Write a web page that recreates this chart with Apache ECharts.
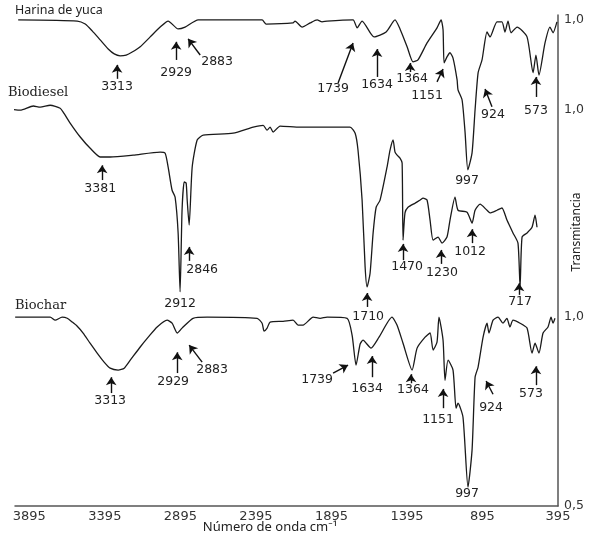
<!DOCTYPE html>
<html>
<head>
<meta charset="utf-8">
<script src="https://cdn.jsdelivr.net/npm/echarts@6/dist/echarts.min.js"></script>
<style>
  html, body { margin: 0; padding: 0; background: #fff; }
  #main { width: 590px; height: 535px; }
</style>
</head>
<body>
<div id="main"></div>
<script>
// numero de onda (cm-1) y transmitancia de cada espectro
const harinaWn = [3969, 3578, 3525, 3479, 3426, 3373, 3333, 3294, 3254, 3214, 3161, 3095, 3029, 2976, 2910, 2864, 2777, 2354, 2327, 2149, 2136, 2089, 2036, 1990, 1957, 1924, 1752, 1725, 1692, 1613, 1533, 1474, 1441, 1394, 1355, 1322, 1262, 1196, 1169, 1156, 1149, 1130, 1110, 1090, 1063, 1057, 1030, 1010, 992, 964, 944, 924, 898, 865, 845, 799, 766, 746, 726, 706, 666, 600, 560, 541, 521, 481, 448, 428, 402];
const harinaT = [1.0, 0.997, 0.989, 0.971, 0.947, 0.923, 0.910, 0.905, 0.907, 0.915, 0.929, 0.955, 0.981, 0.997, 0.976, 0.981, 1.0, 1.0, 0.989, 0.992, 0.997, 0.981, 0.992, 1.0, 0.995, 0.997, 1.0, 0.979, 0.997, 0.955, 0.968, 1.0, 0.976, 0.929, 0.889, 0.894, 0.939, 0.979, 1.0, 0.974, 0.886, 0.902, 0.913, 0.899, 0.841, 0.815, 0.788, 0.701, 0.603, 0.648, 0.762, 0.860, 0.894, 0.968, 0.955, 0.995, 0.995, 0.968, 0.997, 0.966, 0.981, 0.955, 0.860, 0.907, 0.854, 0.939, 0.981, 0.966, 0.995];

const biodieselWn = [4022, 3955, 3869, 3823, 3757, 3691, 3671, 3625, 3558, 3492, 3426, 3360, 3208, 3029, 2996, 2976, 2950, 2930, 2910, 2897, 2884, 2870, 2857, 2850, 2837, 2817, 2784, 2744, 2546, 2413, 2347, 2321, 2301, 2281, 2235, 2102, 1772, 1738, 1719, 1692, 1672, 1659, 1639, 1619, 1599, 1573, 1527, 1507, 1487, 1474, 1460, 1441, 1427, 1421, 1408, 1388, 1341, 1308, 1288, 1262, 1242, 1222, 1189, 1163, 1130, 1110, 1077, 1057, 997, 964, 944, 911, 865, 845, 799, 766, 733, 693, 660, 646, 633, 600, 567, 547, 534];
const biodieselT = [1.003, 1.0, 1.011, 1.008, 1.013, 1.005, 0.995, 0.966, 0.929, 0.899, 0.876, 0.876, 0.881, 0.889, 0.886, 0.849, 0.788, 0.770, 0.675, 0.519, 0.735, 0.810, 0.807, 0.762, 0.696, 0.849, 0.921, 0.934, 0.939, 0.955, 0.960, 0.947, 0.955, 0.942, 0.958, 0.955, 0.955, 0.939, 0.894, 0.762, 0.585, 0.532, 0.569, 0.675, 0.743, 0.762, 0.849, 0.894, 0.921, 0.889, 0.881, 0.873, 0.860, 0.656, 0.728, 0.743, 0.754, 0.762, 0.767, 0.762, 0.709, 0.656, 0.664, 0.648, 0.664, 0.709, 0.770, 0.735, 0.730, 0.701, 0.735, 0.751, 0.735, 0.728, 0.735, 0.741, 0.709, 0.675, 0.648, 0.532, 0.664, 0.675, 0.690, 0.722, 0.690];

const biocharWn = [3989, 3757, 3724, 3678, 3644, 3611, 3578, 3539, 3493, 3446, 3400, 3360, 3307, 3267, 3227, 3161, 3108, 3049, 2983, 2950, 2916, 2884, 2811, 2718, 2387, 2354, 2341, 2321, 2301, 2215, 2149, 2116, 2083, 2016, 1970, 1924, 1791, 1758, 1732, 1705, 1686, 1633, 1580, 1494, 1461, 1421, 1361, 1328, 1275, 1242, 1222, 1196, 1183, 1156, 1143, 1123, 1090, 1070, 1057, 1024, 991, 964, 944, 924, 891, 865, 852, 825, 792, 759, 733, 713, 693, 646, 600, 567, 547, 521, 494, 461, 441, 428, 415];
const biocharT = [1.0, 1.0, 0.992, 1.0, 0.997, 0.987, 0.976, 0.958, 0.931, 0.905, 0.881, 0.865, 0.860, 0.865, 0.886, 0.921, 0.947, 0.974, 0.992, 0.984, 0.958, 0.971, 0.997, 1.0, 0.997, 0.984, 0.963, 0.971, 0.987, 0.989, 0.992, 0.979, 0.979, 1.0, 0.997, 1.0, 0.997, 0.952, 0.873, 0.929, 0.939, 0.918, 0.947, 1.0, 0.979, 0.931, 0.860, 0.918, 0.947, 0.958, 0.913, 0.934, 1.0, 0.939, 0.833, 0.886, 0.860, 0.759, 0.772, 0.735, 0.550, 0.648, 0.841, 0.868, 0.947, 0.984, 0.958, 0.992, 1.0, 0.984, 0.997, 0.974, 0.992, 0.984, 0.971, 0.905, 0.931, 0.905, 0.958, 0.974, 1.0, 0.984, 0.997];

// desplazamiento vertical de cada espectro
const harinaOffset = 0.787;
const biodieselOffset = 0.548;
const biocharOffset = 0;

const xTicks = [3895, 3395, 2895, 2395, 1895, 1395, 895, 395];

// bandas: [texto, cola de flecha, punta de flecha, etiqueta]
const harinaBands = [
    ['3313', [3314, 0.844], [3314, 0.881], [3314, 0.823]],
    ['2929', [2923, 0.894], [2923, 0.942], [2923, 0.860]],
    ['2883', [2764, 0.907], [2844, 0.950], [2652, 0.889]],
    ['1739', [1851, 0.833], [1752, 0.939], [1884, 0.817]],
    ['1634', [1593, 0.849], [1593, 0.923], [1593, 0.828]],
    ['1364', [1374, 0.862], [1374, 0.886], [1361, 0.844]],
    ['1151', [1196, 0.836], [1156, 0.870], [1262, 0.799]],
    ['997', null, null, [997, 0.574]],
    ['924', [832, 0.770], [878, 0.817], [825, 0.749]],
    ['573', [541, 0.796], [541, 0.849], [541, 0.759]]
];
const biodieselBands = [
    ['3381', [3413, 0.815], [3413, 0.854], [3426, 0.791]],
    ['2846', [2837, 0.601], [2837, 0.638], [2751, 0.577]],
    ['2912', null, null, [2897, 0.487]],
    ['1710', [1659, 0.479], [1659, 0.516], [1652, 0.452]],
    ['1470', [1421, 0.603], [1421, 0.646], [1394, 0.585]],
    ['1230', [1169, 0.593], [1169, 0.630], [1163, 0.569]],
    ['1012', [964, 0.648], [964, 0.685], [977, 0.624]],
    ['717', [653, 0.511], [653, 0.542], [646, 0.492]]
];
const biocharBands = [
    ['3313', [3353, 0.799], [3353, 0.841], [3360, 0.778]],
    ['2929', [2916, 0.852], [2916, 0.907], [2943, 0.828]],
    ['2883', [2751, 0.881], [2837, 0.926], [2685, 0.860]],
    ['1739', [1884, 0.852], [1785, 0.873], [1990, 0.833]],
    ['1634', [1626, 0.841], [1626, 0.897], [1659, 0.810]],
    ['1364', [1368, 0.825], [1368, 0.849], [1355, 0.807]],
    ['1151', [1156, 0.759], [1156, 0.810], [1189, 0.728]],
    ['997', null, null, [997, 0.532]],
    ['924', [825, 0.796], [871, 0.831], [838, 0.759]],
    ['573', [541, 0.820], [541, 0.870], [574, 0.796]]
];

const numFont = 'DejaVu Sans';

const makeSeries = (name, wn, t, offset, bands) => {
    const arrows = bands.filter(b => b[1]).map(b => [
        { coord: [b[1][0], b[1][1] + offset] },
        { coord: [b[2][0], b[2][1] + offset] }
    ]);
    const labels = bands.map(b => ({
        coord: [b[3][0], b[3][1] + offset],
        value: b[0]
    }));
    return {
        name: name,
        type: 'line',
        data: wn.map((w, i) => [w, t[i] + offset]),
        symbol: 'none',
        smooth: 0.2,
        clip: false,
        lineStyle: { color: '#1a1a1a', width: 1.3 },
        silent: true,
        markLine: {
            silent: true,
            symbol: ['none', 'arrow'],
            symbolSize: 8,
            label: { show: false },
            lineStyle: { color: '#111', width: 1.4, type: 'solid' },
            data: arrows
        },
        markPoint: {
            silent: true,
            symbol: 'rect',
            symbolSize: 1,
            itemStyle: { color: 'rgba(0,0,0,0)' },
            label: {
                show: true,
                position: 'inside',
                formatter: '{c}',
                color: '#222',
                fontFamily: numFont,
                fontSize: 12.5
            },
            data: labels
        }
    };
};

var chartDom = document.getElementById('main');
var myChart = echarts.init(chartDom);
var option = {
    animation: false,
    backgroundColor: '#fff',
    grid: { left: 15, right: 32, top: 15, bottom: 29, containLabel: false, outerBoundsMode: 'none' },
    xAxis: {
        type: 'value',
        inverse: true,
        min: 395,
        max: 3990,
        interval: 500,
        axisLine: { show: true, lineStyle: { color: '#555', width: 1.5 } },
        axisTick: { show: false },
        splitLine: { show: false },
        axisLabel: {
            showMaxLabel: false,
            margin: 4,
            color: '#333',
            fontFamily: numFont,
            fontSize: 13,
            formatter: v => (xTicks.indexOf(v) >= 0 ? String(v) : '')
        }
    },
    yAxis: {
        type: 'value',
        position: 'right',
        min: 0.5,
        max: 1.8,
        axisLine: { show: true, onZero: false, lineStyle: { color: '#555', width: 1.5 } },
        axisTick: { show: false },
        splitLine: { show: false },
        axisLabel: {
            customValues: [0.5, 1 + biocharOffset, 1 + biodieselOffset, 1 + harinaOffset],
            margin: 6,
            color: '#333',
            fontFamily: numFont,
            fontSize: 12.5,
            formatter: v => (v < 0.75 ? '0,5' : '1,0')
        }
    },
    series: [
        makeSeries('Harina de yuca', harinaWn, harinaT, harinaOffset, harinaBands),
        makeSeries('Biodiesel', biodieselWn, biodieselT, biodieselOffset, biodieselBands),
        makeSeries('Biochar', biocharWn, biocharT, biocharOffset, biocharBands)
    ],
    graphic: [
        { type: 'text', left: 15, top: 4, style: { text: 'Harina de yuca', fill: '#222', font: '12.5px "Noto Sans"' } },
        { type: 'text', left: 8, top: 86, style: { text: 'Biodiesel', fill: '#222', font: '13px "DejaVu Serif"' } },
        { type: 'text', left: 15, top: 299, style: { text: 'Biochar', fill: '#222', font: '13px "DejaVu Serif"' } },
        { type: 'text', x: 270, y: 527, style: { text: 'Número de onda cm⁻¹', fill: '#222', font: '13px "Noto Sans"', align: 'center', verticalAlign: 'middle' } },
        { type: 'text', x: 577, y: 232, rotation: Math.PI / 2, style: { text: 'Transmitancia', fill: '#222', font: '12px "Noto Sans"', align: 'center', verticalAlign: 'middle' } }
    ]
};
option && myChart.setOption(option);
</script>
</body>
</html>
